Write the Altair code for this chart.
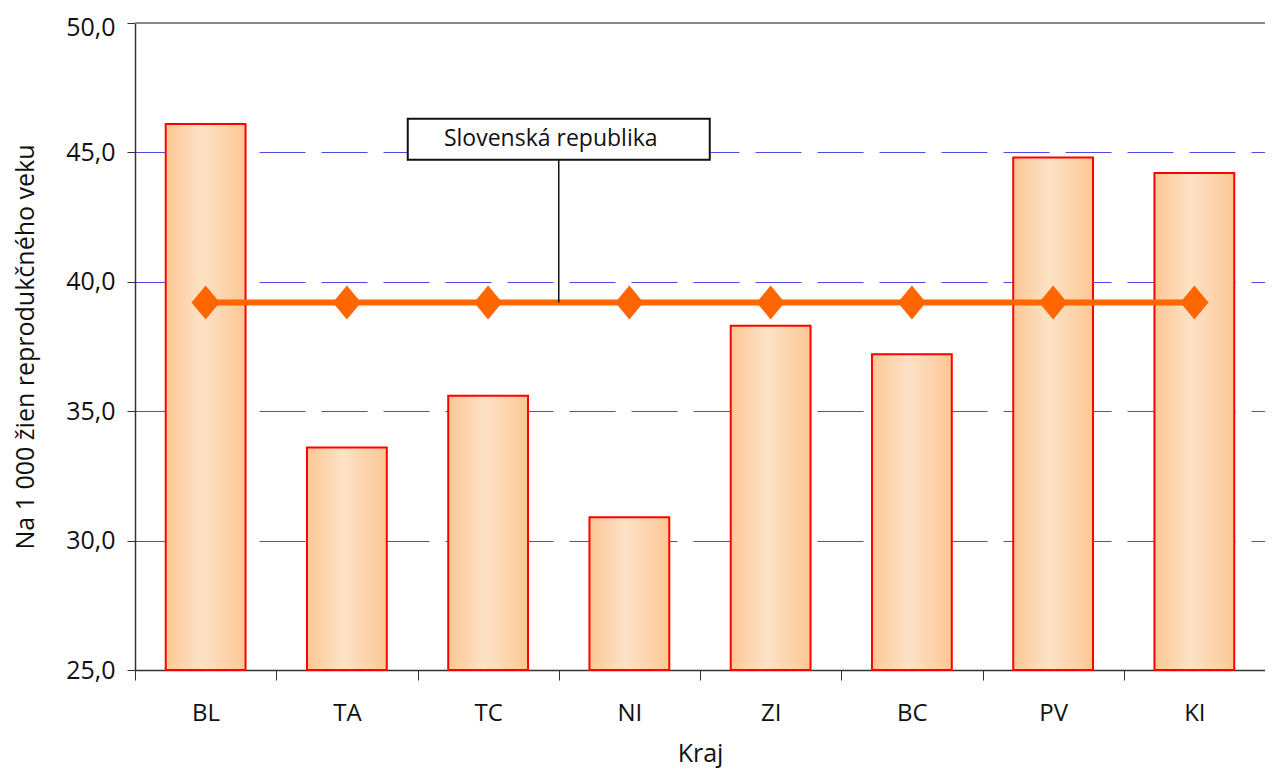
import altair as alt
import pandas as pd

# --- data ---
kraje = ["BL", "TA", "TC", "NI", "ZI", "BC", "PV", "KI"]
hodnoty = [46.1, 33.6, 35.6, 30.9, 38.3, 37.2, 44.8, 44.2]
slovensko = [39.2] * len(kraje)
y_ticks = [25, 30, 35, 40, 45, 50]
annot_text = "Slovenská republika"

W = 1130
H = 647
band = W / len(kraje)
FONT = "Open Sans"

df = pd.DataFrame({"Kraj": kraje, "Hodnota": hodnoty, "SR": slovensko, "Base": 25})

x_enc = alt.X(
    "Kraj:N",
    sort=kraje,
    scale=alt.Scale(paddingInner=0, paddingOuter=0),
    axis=alt.Axis(
        title="Kraj",
        labelAngle=0,
        tickBand="extent",
        tickSize=10,
        tickColor="#333333",
        domainColor="#333333",
        domainWidth=1.5,
        labelFont=FONT,
        labelFontSize=24,
        labelColor="#111111",
        labelPadding=21,
        titleFont=FONT,
        titleFontSize=25,
        titleFontWeight="normal",
        titleColor="#111111",
        titleY=91,
        titleBaseline="alphabetic",
        grid=False,
    ),
)

y_scale = alt.Scale(domain=[25, 50], nice=False, zero=False)
y_enc = alt.Y(
    "Hodnota:Q",
    scale=y_scale,
    axis=alt.Axis(
        title="Na 1 000 žien reprodukčného veku",
        values=y_ticks,
        labelExpr="replace(format(datum.value, '.1f'), '.', ',')",
        labelOffset={"condition": {"test": "datum.value == 50", "value": 4}, "value": 0},
        tickSize=8,
        tickColor="#333333",
        domainColor="#333333",
        domainWidth=1.5,
        labelFont=FONT,
        labelFontSize=25,
        labelColor="#111111",
        labelPadding=12,
        titleFont=FONT,
        titleFontSize=25,
        titleFontWeight="normal",
        titleColor="#111111",
        titleX=-110,
        titleY=H / 2,
        titleAlign="center",
        titleBaseline="middle",
        grid=True,
        gridColor="#4a4aee",
        gridDash=[46, 16],
        gridWidth=1,
    ),
)

gradient = alt.Gradient(
    gradient="linear",
    stops=[
        alt.GradientStop(color="#fcc794", offset=0),
        alt.GradientStop(color="#fde2c6", offset=0.45),
        alt.GradientStop(color="#fcc794", offset=1),
    ],
    x1=0, x2=1, y1=0, y2=0,
)

bars = alt.Chart(df).mark_bar(
    fill=gradient,
    stroke="#ff0000",
    strokeWidth=2,
    width=alt.RelativeBandSize(0.565),
).encode(x=x_enc, y=y_enc, y2="Base:Q")

top_rule = alt.Chart(df).mark_rule(
    color="#888888", strokeWidth=1.5
).encode(y=alt.datum(50))

line = alt.Chart(df).mark_line(color="#ff6600", strokeWidth=6).encode(
    x=alt.X("Kraj:N", sort=kraje),
    y=alt.Y("SR:Q"),
)

points = alt.Chart(df).mark_point(
    shape="M-1,0L0,-1.2L1,0L0,1.2Z",
    filled=True,
    fill="#ff6600",
    stroke="#ff6600",
    strokeWidth=0,
    opacity=1,
    size=800,
).encode(
    x=alt.X("Kraj:N", sort=kraje),
    y=alt.Y("SR:Q"),
)

box_cx = 3 * band
annot_data = alt.Data(values=[{"t": annot_text}])

connector = alt.Chart(annot_data).mark_rule(color="#111111", strokeWidth=1.5).encode(
    x=alt.value(box_cx),
    y=alt.datum(44.72),
    y2=alt.datum(39.2),
)

box = alt.Chart(annot_data).mark_rect(
    fill="white", stroke="#111111", strokeWidth=2
).encode(
    x=alt.value(box_cx - 151),
    x2=alt.value(box_cx + 151),
    y=alt.datum(46.3),
    y2=alt.datum(44.72),
)

label = alt.Chart(annot_data).mark_text(
    font=FONT, fontSize=23, color="#111111", align="center", baseline="middle"
).encode(
    x=alt.value(box_cx - 8),
    y=alt.datum(45.51),
    text="t:N",
)

chart = alt.layer(bars, top_rule, line, points, connector, box, label).properties(
    width=W,
    height=H,
    autosize=alt.AutoSizeParams(type="none"),
    padding={"left": 127, "top": 15, "right": 0, "bottom": 100},
).configure_view(stroke=None).configure(background="white")

chart.save("out.html", embed_options={"renderer": "svg", "actions": False})
